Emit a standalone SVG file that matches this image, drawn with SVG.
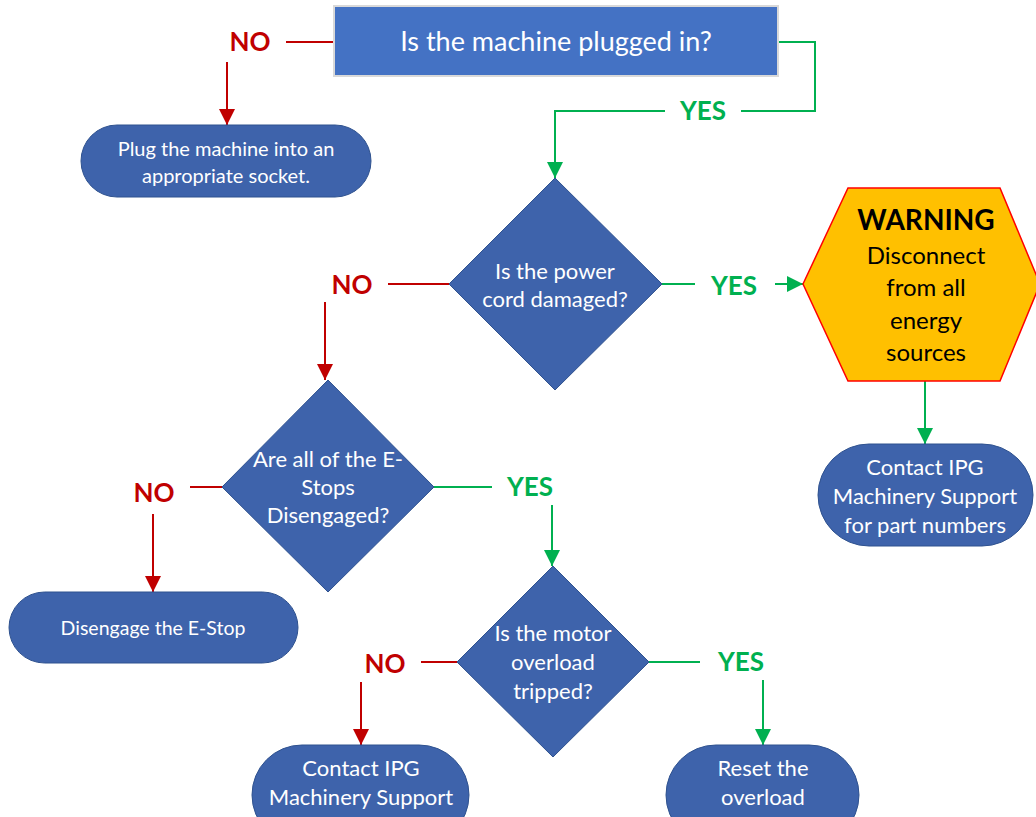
<svg xmlns="http://www.w3.org/2000/svg" width="1036" height="817" viewBox="0 0 1036 817">
<defs>
<style>
.node{fill:#3E63AB;stroke:#2F528F;stroke-width:1}
.t{font-family:Lato,"Open Sans",sans-serif;fill:#fff;text-anchor:middle}
.no{font-family:Lato,"Open Sans",sans-serif;font-weight:bold;fill:#C00000;font-size:26px;text-anchor:middle}
.yes{font-family:Lato,"Open Sans",sans-serif;font-weight:bold;fill:#00B050;font-size:26px;text-anchor:middle}
.r{stroke:#C00000;stroke-width:2;fill:none}
.g{stroke:#00B050;stroke-width:2;fill:none}
</style>
<marker id="ar" markerUnits="userSpaceOnUse" markerWidth="16" markerHeight="16" viewBox="0 0 16 16" refX="16" refY="8" orient="auto"><path d="M0,0 L16,8 L0,16 Z" fill="#C00000"/></marker>
<marker id="ag" markerUnits="userSpaceOnUse" markerWidth="16" markerHeight="16" viewBox="0 0 16 16" refX="16" refY="8" orient="auto"><path d="M0,0 L16,8 L0,16 Z" fill="#00B050"/></marker>
</defs>
<rect width="1036" height="817" fill="#fff"/>
<g id="connectors">
<path class="r" d="M286,42 H334"/>
<path class="r" d="M227,62 V125" marker-end="url(#ar)"/>
<path class="g" d="M778,42 H815 V111 H741"/>
<path class="g" d="M665,111 H555 V178" marker-end="url(#ag)"/>
<path class="r" d="M449,284 H388"/>
<path class="r" d="M325,302 V380" marker-end="url(#ar)"/>
<path class="g" d="M662,284 H695"/>
<path class="g" d="M775,284 H803" marker-end="url(#ag)"/>
<path class="g" d="M925,381 V444" marker-end="url(#ag)"/>
<path class="r" d="M222,487 H190"/>
<path class="r" d="M153,514 V592" marker-end="url(#ar)"/>
<path class="g" d="M434,487 H492"/>
<path class="g" d="M552,505 V566" marker-end="url(#ag)"/>
<path class="r" d="M457,662 H421"/>
<path class="r" d="M361,682 V745" marker-end="url(#ar)"/>
<path class="g" d="M649,662 H700"/>
<path class="g" d="M763,680 V745" marker-end="url(#ag)"/>
<text class="no" x="250" y="51">NO</text>
<text class="yes" x="703" y="120">YES</text>
<text class="no" x="352" y="294">NO</text>
<text class="yes" x="734" y="295">YES</text>
<text class="no" x="154" y="502">NO</text>
<text class="yes" x="530" y="496">YES</text>
<text class="no" x="385" y="673">NO</text>
<text class="yes" x="741" y="671">YES</text>
</g>
<g id="start">
<rect x="334" y="6" width="444" height="70" fill="#4472C4" stroke="#D9D9D9" stroke-width="2"/>
<text class="t" x="556" y="51" font-size="27">Is the machine plugged in?</text>
</g>
<g id="plug">
<rect class="node" x="81" y="125" width="290" height="72" rx="36"/>
<text class="t" font-size="20"><tspan x="226" y="156">Plug the machine into an</tspan><tspan x="226" y="183">appropriate socket.</tspan></text>
</g>
<g id="cord">
<path class="node" d="M555,178 L662,284 L555,390 L449,284 Z"/>
<text class="t" font-size="22"><tspan x="555" y="279">Is the power</tspan><tspan x="555" y="307">cord damaged?</tspan></text>
</g>
<g id="warning">
<path d="M803,284 L848,188 L1000,188 L1040,284 L1000,381 L848,381 Z" fill="#FFC000" stroke="#FF0000" stroke-width="1.5"/>
<text x="926" y="230" font-family="Lato,'Open Sans',sans-serif" font-weight="bold" font-size="28" text-anchor="middle" fill="#000">WARNING</text>
<text font-family="Lato,'Open Sans',sans-serif" font-size="24" text-anchor="middle" fill="#000"><tspan x="926" y="264">Disconnect</tspan><tspan x="926" y="296">from all</tspan><tspan x="926" y="329">energy</tspan><tspan x="926" y="361">sources</tspan></text>
</g>
<g id="contact1">
<rect class="node" x="818" y="444" width="215" height="102" rx="51"/>
<text class="t" font-size="22"><tspan x="925" y="475">Contact IPG</tspan><tspan x="925" y="504">Machinery Support</tspan><tspan x="925" y="533">for part numbers</tspan></text>
</g>
<g id="estops">
<path class="node" d="M328,380 L434,487 L328,592 L222,487 Z"/>
<text class="t" font-size="22"><tspan x="328" y="467">Are all of the E-</tspan><tspan x="328" y="495">Stops</tspan><tspan x="328" y="523">Disengaged?</tspan></text>
</g>
<g id="disengage">
<rect class="node" x="9" y="592" width="289" height="71" rx="35.5"/>
<text class="t" x="153" y="635" font-size="19.5">Disengage the E-Stop</text>
</g>
<g id="motor">
<path class="node" d="M553,566 L649,662 L553,757 L457,662 Z"/>
<text class="t" font-size="22"><tspan x="553" y="641">Is the motor</tspan><tspan x="553" y="670">overload</tspan><tspan x="553" y="699">tripped?</tspan></text>
</g>
<g id="contact2">
<rect class="node" x="252" y="745" width="217" height="100" rx="50"/>
<text class="t" font-size="22"><tspan x="361" y="776">Contact IPG</tspan><tspan x="361" y="805">Machinery Support</tspan></text>
</g>
<g id="reset">
<rect class="node" x="666" y="745" width="193" height="100" rx="50"/>
<text class="t" font-size="22"><tspan x="763" y="776">Reset the</tspan><tspan x="763" y="805">overload</tspan></text>
</g>
</svg>
